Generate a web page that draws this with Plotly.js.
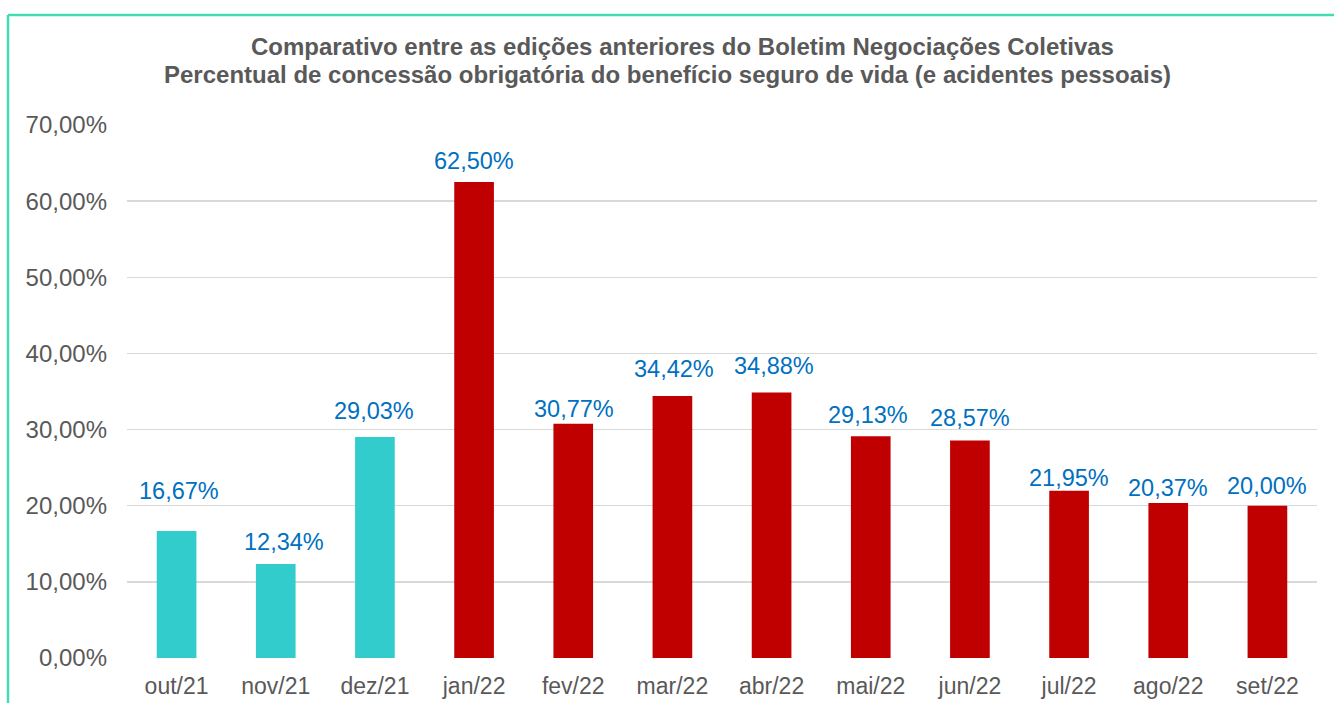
<!DOCTYPE html>
<html>
<head>
<meta charset="utf-8">
<script src="https://cdn.plot.ly/plotly-3.0.1.min.js"></script>
<style>
html,body{margin:0;padding:0;background:#fff;}
#chart{width:1334px;height:703px;}
</style>
</head>
<body>
<div id="chart"></div>
<script>
const categories = ["out/21","nov/21","dez/21","jan/22","fev/22","mar/22","abr/22","mai/22","jun/22","jul/22","ago/22","set/22"];
const values = [16.67, 12.34, 29.03, 62.50, 30.77, 34.42, 34.88, 29.13, 28.57, 21.95, 20.37, 20.00];
const barColors = ["#33CCCC","#33CCCC","#33CCCC","#C00000","#C00000","#C00000","#C00000","#C00000","#C00000","#C00000","#C00000","#C00000"];
const titleLines = [
  "Comparativo entre as edições anteriores do Boletim Negociações Coletivas",
  "Percentual de concessão obrigatória do benefício seguro de vida (e acidentes pessoais)"
];
// label placement above each bar (pixels), as positioned in the original chart
const labelGapPx = [40.4, 22.3, 26.3, 21, 14.3, 27.3, 26, 21, 22.7, 12.7, 14.6, 20];
const labelDxPx  = [2.6, 8.7, -1, 0, 0.6, 1.2, 2.3, -3, 0, 0, 0, 0];

const font = "Liberation Sans, Arial, sans-serif";

const trace = {
  type: "bar",
  x: categories,
  y: values,
  marker: {color: barColors},
  hoverinfo: "skip"
};

const fmt = v => v.toFixed(2).replace(".", ",") + "%";

const labelAnnotations = categories.map((c, i) => ({
  x: c, y: values[i], xref: "x", yref: "y",
  text: fmt(values[i]),
  showarrow: false,
  xanchor: "center", yanchor: "middle",
  yshift: labelGapPx[i], xshift: labelDxPx[i],
  font: {family: font, size: 23.5, color: "#0070C0"}
}));

const layout = {
  width: 1334,
  height: 703,
  paper_bgcolor: "#ffffff",
  plot_bgcolor: "#ffffff",
  separators: ",.",
  showlegend: false,
  bargap: 0.6,
  margin: {l: 127, r: 17, t: 125, b: 45},
  xaxis: {
    type: "category",
    showgrid: false,
    showline: false,
    zeroline: false,
    ticks: "",
    tickfont: {family: font, size: 23, color: "#595959"},
    ticklabelstandoff: 12
  },
  yaxis: {
    range: [0, 70],
    dtick: 10,
    tickformat: ".2f",
    ticksuffix: "%",
    showgrid: true,
    gridcolor: "#D9D9D9",
    gridwidth: 1.5,
    zeroline: false,
    showline: false,
    ticks: "",
    tickfont: {family: font, size: 24, color: "#595959"},
    ticklabelstandoff: 19
  },
  annotations: [
    {text: "<b>" + titleLines[0] + "</b>", xref: "paper", yref: "paper", x: 0.4668, y: 1.1482,
     xanchor: "center", yanchor: "middle", showarrow: false,
     font: {family: font, size: 24, color: "#595959"}},
    {text: "<b>" + titleLines[1] + "</b>", xref: "paper", yref: "paper", x: 0.4542, y: 1.0947,
     xanchor: "center", yanchor: "middle", showarrow: false,
     font: {family: font, size: 24, color: "#595959"}}
  ].concat(labelAnnotations),
  shapes: [
    {type: "line", xref: "paper", yref: "paper", x0: -0.1, x1: 1.2, y0: 1.2064, y1: 1.2064, line: {color: "#40DDB5", width: 2.5}},
    {type: "line", xref: "paper", yref: "paper", x0: -0.1, x1: -0.1, y0: 1.2064, y1: -0.2, line: {color: "#40DDB5", width: 2.5}}
  ]
};

Plotly.newPlot("chart", [trace], layout, {displayModeBar: false, staticPlot: true});
</script>
</body>
</html>
